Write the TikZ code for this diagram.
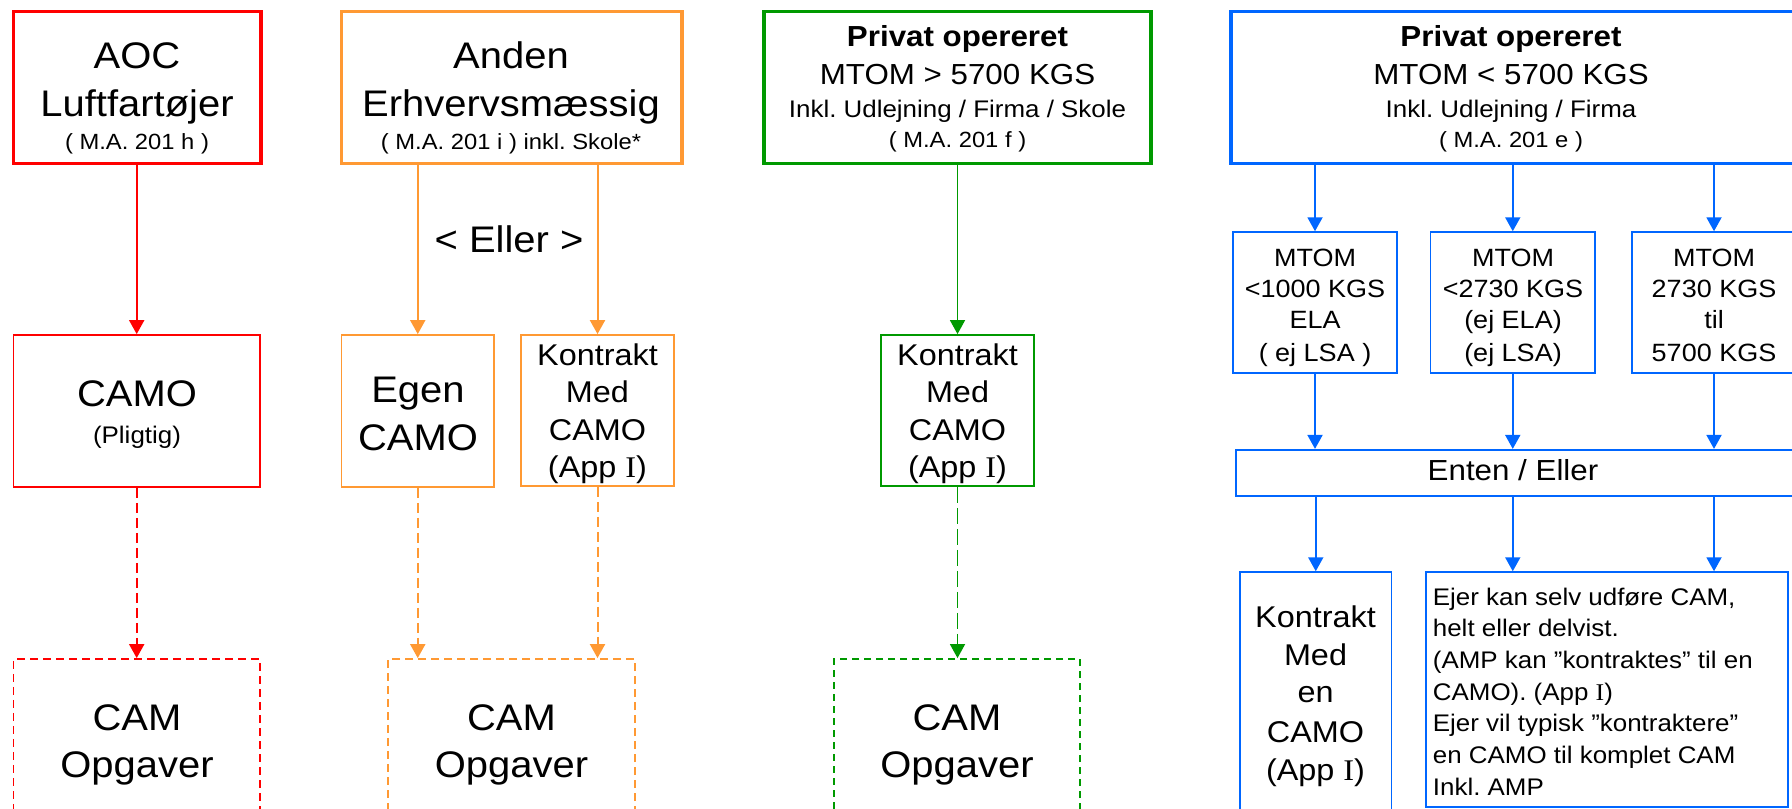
\documentclass[tikz,border=0pt]{standalone}
\usepackage{fontspec}
\setmainfont{Liberation Sans}[FakeStretch=1.08]
\newfontfamily\serifI{Liberation Serif}[FakeStretch=1.08]
\usetikzlibrary{arrows.meta}
\definecolor{cred}{HTML}{FF0000}
\definecolor{corange}{HTML}{FF9933}
\definecolor{cgreen}{HTML}{009900}
\definecolor{cblue}{HTML}{0066FF}
\newcommand{\appI}{(App {\serifI I})}
\frenchspacing
\begin{document}
\frenchspacing
\begin{tikzpicture}[x=0.5pt,y=-0.5pt,
  box/.style={draw, rectangle, inner sep=0pt},
  thickbox/.style={box, line width=1.6pt},
  thinbox/.style={box, line width=0.9pt},
  dbox/.style={box, line width=0.9pt, dash pattern=on 4pt off 2.5pt},
  arr/.style={line width=1pt, -{Triangle[length=7pt,width=7.5pt]}},
  darr/.style={arr, dash pattern=on 5pt off 2.5pt},
  gdarr/.style={arr, dash pattern=on 8pt off 2.5pt},
  txt/.style={anchor=base, inner sep=0pt},
  big/.style={txt, font=\fontsize{18.5pt}{22pt}\selectfont},
  med/.style={txt, font=\fontsize{14.5pt}{17pt}\selectfont},
  medb/.style={txt, font=\fontsize{14.5pt}{17pt}\selectfont\bfseries},
  kon/.style={txt, font=\fontsize{15pt}{18pt}\selectfont},
  mt/.style={txt, font=\fontsize{12.5pt}{15pt}\selectfont},
  sm/.style={txt, font=\fontsize{12pt}{14pt}\selectfont},
  xs/.style={txt, font=\fontsize{11pt}{13pt}\selectfont},
  ej/.style={anchor=base west, inner sep=0pt, font=\fontsize{12pt}{14pt}\selectfont}
]
\useasboundingbox (0,0) rectangle (1792,808);

% ---------------- RED column ----------------
\node[thickbox, draw=cred, minimum width=123.8pt, minimum height=75.8pt] (aoc) at (137.2,87.5) {};
\node[thinbox, draw=cred, minimum width=123.3pt, minimum height=76pt] (camo) at (136.7,411) {};
\node[dbox, draw=cred, minimum width=123.3pt, minimum height=90.5pt] (camr) at (136.7,749.5) {};
\node[big] (aoc1) at (137,69) {AOC};
\node[big] (aoc2) at (137,117) {Luftfartøjer};
\node[xs] (aoc3) at (137,149) {( M.A. 201 h )};
\node[big] (camo1) at (137,406) {CAMO};
\node[sm] (camo2) at (137,443) {(Pligtig)};
\node[big] (camr1) at (137,730) {CAM};
\node[big] (camr2) at (137,777) {Opgaver};
\draw[arr, cred] (aoc.south -| camo.north) -- (camo.north);
\draw[darr, cred] (camo.south) -- (camo.south |- camr.north);

% ---------------- ORANGE column ----------------
\node[thickbox, draw=corange, minimum width=170.25pt, minimum height=75.7pt] (anden) at (511.75,87.4) {};
\node[thinbox, draw=corange, minimum width=76.25pt, minimum height=76pt] (egen) at (417.75,411) {};
\node[thinbox, draw=corange, minimum width=76.5pt, minimum height=75.5pt] (konto) at (597.5,410.5) {};
\node[dbox, draw=corange, minimum width=123.5pt, minimum height=90.5pt] (camo2b) at (511.5,749.5) {};
\node[big] (and1) at (511,69) {Anden};
\node[big] (and2) at (511,117) {Erhvervsmæssig};
\node[xs] (and3) at (511,149) {( M.A. 201 i ) inkl. Skole*};
\node[big] (eller) at (509,252) {< Eller >};
\node[big] (egen1) at (418,402) {Egen};
\node[big] (egen2) at (418,450) {CAMO};
\node[kon] (ko1) at (597.5,365) {Kontrakt};
\node[kon] (ko2) at (597.5,402.5) {Med};
\node[kon] (ko3) at (597.5,440) {CAMO};
\node[kon] (ko4) at (597.5,477.5) {\appI};
\node[big] (cam21) at (511.5,730) {CAM};
\node[big] (cam22) at (511.5,777) {Opgaver};
\draw[arr, corange] (anden.south -| egen.north) -- (egen.north);
\draw[arr, corange] (anden.south -| konto.north) -- (konto.north);
\draw[darr, corange] (egen.south) -- (egen.south |- camo2b.north);
\draw[darr, corange] (konto.south) -- (konto.south |- camo2b.north);

% ---------------- GREEN column ----------------
\node[thickbox, draw=cgreen, minimum width=193.5pt, minimum height=75.7pt] (priv1) at (957.5,87.4) {};
\node[thinbox, draw=cgreen, minimum width=76.5pt, minimum height=75.5pt] (kontg) at (957.5,410.5) {};
\node[dbox, draw=cgreen, minimum width=123pt, minimum height=90.5pt, dash pattern=on 3.5pt off 2.5pt] (camg) at (957,749.5) {};
\node[medb] (pg1) at (957.5,46.7) {Privat opereret};
\node[med] (pg2) at (957.5,84) {MTOM > 5700 KGS};
\node[sm] (pg3) at (957.5,118) {Inkl. Udlejning / Firma / Skole};
\node[xs] (pg4) at (957.5,148) {( M.A. 201 f )};
\node[kon] (kg1) at (957.5,365) {Kontrakt};
\node[kon] (kg2) at (957.5,402.5) {Med};
\node[kon] (kg3) at (957.5,440) {CAMO};
\node[kon] (kg4) at (957.5,477.5) {\appI};
\node[big] (cg1) at (957,730) {CAM};
\node[big] (cg2) at (957,777) {Opgaver};
\draw[arr, cgreen, line width=0.8pt] (priv1.south -| kontg.north) -- (kontg.north);
\draw[gdarr, cgreen, line width=0.8pt] (kontg.south) -- (kontg.south |- camg.north);

% ---------------- BLUE column ----------------
\node[thickbox, draw=cblue, minimum width=283pt, minimum height=75.7pt] (priv2) at (1514,87.4) {};
\node[box, draw=cblue, line width=0.75pt, minimum width=82pt, minimum height=70.5pt] (m1) at (1315,302.5) {};
\node[box, draw=cblue, line width=0.75pt, minimum width=82.25pt, minimum height=70.5pt] (m2) at (1512.75,302.5) {};
\node[box, draw=cblue, line width=0.75pt, minimum width=84pt, minimum height=70.5pt] (m3) at (1716,302.5) {};
\node[box, draw=cblue, line width=1.1pt, minimum width=281pt, minimum height=23pt] (enten) at (1517,473) {};
\node[box, draw=cblue, line width=0.75pt, minimum width=75.75pt, minimum height=134pt] (kontb) at (1315.75,706) {};
\node[box, draw=cblue, line width=0.75pt, minimum width=181pt, minimum height=117.5pt] (ejer) at (1607,689.5) {};

\node[medb] (pb1) at (1511,46.7) {Privat opereret};
\node[med] (pb2) at (1511,84) {MTOM < 5700 KGS};
\node[sm] (pb3) at (1511,118) {Inkl. Udlejning / Firma};
\node[xs] (pb4) at (1511,148) {( M.A. 201 e )};

\node[mt] (m1a) at (1315,266) {MTOM};
\node[mt] (m1b) at (1315,297) {<1000 KGS};
\node[mt] (m1c) at (1315,328) {ELA};
\node[mt] (m1d) at (1315,361) {( ej LSA )};
\node[mt] (m2a) at (1513,266) {MTOM};
\node[mt] (m2b) at (1513,297) {<2730 KGS};
\node[mt] (m2c) at (1513,328) {(ej ELA)};
\node[mt] (m2d) at (1513,361) {(ej LSA)};
\node[mt] (m3a) at (1714,266) {MTOM};
\node[mt] (m3b) at (1714,297) {2730 KGS};
\node[mt] (m3c) at (1714,328) {til};
\node[mt] (m3d) at (1714,361) {5700 KGS};

\node[med] (ent) at (1513,480) {Enten / Eller};

\node[kon] (kb1) at (1315.5,627) {Kontrakt};
\node[kon] (kb2) at (1315.5,665) {Med};
\node[kon] (kb3) at (1315.5,702) {en};
\node[kon] (kb4) at (1315.5,742) {CAMO};
\node[kon] (kb5) at (1315.5,780) {\appI};

\node[ej] (e1) at (1432.5,605) {Ejer kan selv udføre CAM,};
\node[ej] (e2) at (1432.5,636.7) {helt eller delvist.};
\node[ej] (e3) at (1432.5,668.3) {(AMP kan ”kontraktes” til en};
\node[ej] (e4) at (1432.5,700) {CAMO). \appI};
\node[ej] (e5) at (1432.5,731.7) {Ejer vil typisk ”kontraktere”};
\node[ej] (e6) at (1432.5,763.3) {en CAMO til komplet CAM};
\node[ej] (e7) at (1432.5,795) {Inkl. AMP};

\draw[arr, cblue] (priv2.south -| m1.north) -- (m1.north);
\draw[arr, cblue] (priv2.south -| m2.north) -- (m2.north);
\draw[arr, cblue] (priv2.south -| m3a.north) -- (m3a.north |- m3.north);
\draw[arr, cblue] (m1.south) -- (m1.south |- enten.north);
\draw[arr, cblue] (m2.south) -- (m2.south |- enten.north);
\draw[arr, cblue] (m3a.south |- m3.south) -- (m3a.south |- enten.north);
\draw[arr, cblue] (enten.south -| kontb.north) -- (kontb.north);
\draw[arr, cblue] (enten.south -| m2.south) -- (m2.south |- ejer.north);
\draw[arr, cblue] (enten.south -| m3a.south) -- (m3a.south |- ejer.north);
\end{tikzpicture}
\end{document}
